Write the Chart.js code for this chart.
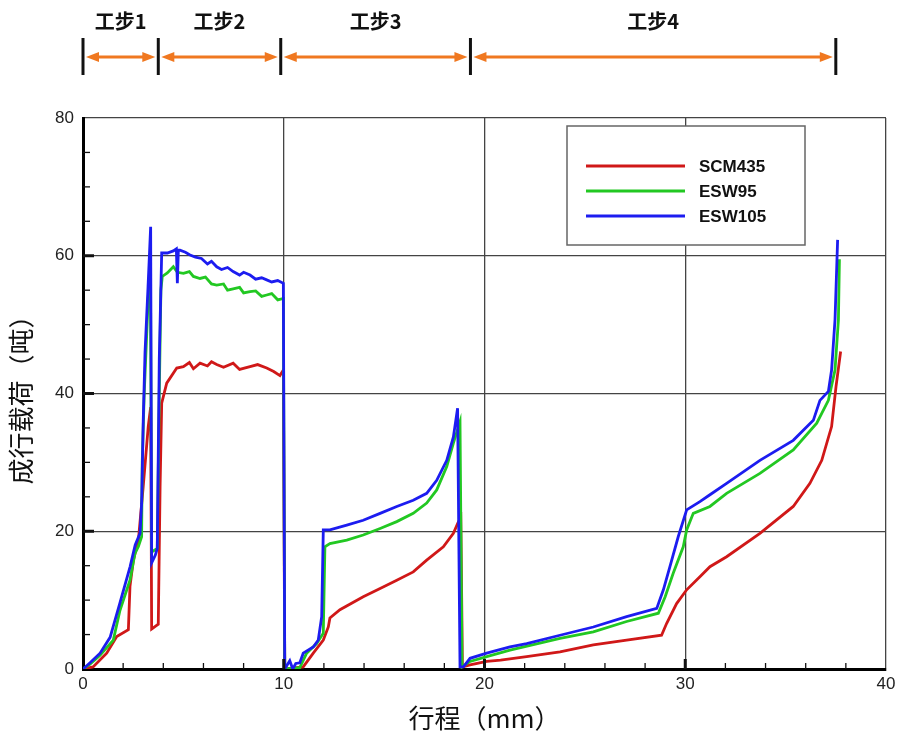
<!DOCTYPE html>
<html><head><meta charset="utf-8">
<script src="https://cdn.jsdelivr.net/npm/chart.js@4"></script>
<style>html,body{margin:0;padding:0;background:#fff}</style>
</head><body>
<canvas id="c" width="912" height="742"></canvas>
<script>
const seriesNames = ['SCM435', 'ESW95', 'ESW105'];
const seriesColors = ['#d01818', '#22c822', '#1c1cf0'];

const scmX = [0, 0.5, 1.18, 1.68, 2.26, 2.34, 2.51, 2.76, 3.0, 3.25, 3.37, 3.42, 3.6, 3.75, 3.84, 3.92, 4.17, 4.67, 5.0, 5.3, 5.5, 5.83, 6.2, 6.4, 6.66, 7.0, 7.48, 7.8, 8.32, 8.7, 9.15, 9.5, 9.81, 9.98, 10.05,
  10.97, 11.47, 11.97, 12.22, 12.3, 12.8, 13.96, 14.8, 15.63, 16.45, 17.12, 17.95, 18.45, 18.66, 18.82, 18.9,
  19.28, 20.11, 20.8, 22.1, 23.76, 25.42, 27.08, 28.82, 29.07, 29.57, 30.07, 30.73, 31.23, 32.06, 33.72, 35.38, 36.21, 36.8, 37.29, 37.51, 37.74];
const scmY = [0, 0.3, 2.3, 4.7, 5.7, 12, 15.8, 18.7, 26.5, 35.2, 38, 5.8, 6.2, 6.5, 26.5, 38.6, 41.5, 43.7, 43.9, 44.5, 43.6, 44.4, 44.0, 44.6, 44.2, 43.8, 44.4, 43.5, 43.9, 44.2, 43.7, 43.2, 42.6, 43.4, 0,
  0.3, 2.3, 4.2, 6.1, 7.4, 8.6, 10.5, 11.7, 12.9, 14.1, 15.8, 17.75, 19.7, 21.1, 22.0, 0.3,
  0.6, 1.1, 1.3, 1.8, 2.5, 3.5, 4.2, 4.9, 6.6, 9.5, 11.5, 13.4, 14.85, 16.3, 19.7, 23.6, 26.95, 30.3, 35.2, 41, 46.1];

const esw95X = [0, 0.35, 0.85, 1.51, 1.84, 2.34, 2.59, 2.76, 2.92, 2.95, 3.05, 3.25, 3.36, 3.42, 3.7, 3.8, 3.88, 3.95, 4.2, 4.5, 4.7, 5.0, 5.3, 5.5, 5.83, 6.1, 6.4, 6.66, 7.0, 7.2, 7.48, 7.8, 8.0, 8.32, 8.6, 8.9, 9.15, 9.4, 9.7, 9.98, 10.05,
  10.8, 11.14, 11.64, 11.97, 12.05, 12.3, 13.14, 13.96, 14.8, 15.63, 16.45, 17.12, 17.62, 18.12, 18.45, 18.78, 18.88,
  19.28, 20.11, 21.27, 23.76, 25.42, 27.08, 28.66, 29.0, 29.4, 29.9, 30.07, 30.4, 31.23, 32.06, 33.72, 35.38, 36.55, 37.13, 37.46, 37.63, 37.68];
const esw95Y = [0, 0.7, 2.0, 4.2, 8.5, 12.9, 16.8, 17.8, 19.2, 30, 40, 54, 58, 17, 17.5, 40, 55, 57, 57.5, 58.4, 57.6, 57.45, 57.7, 57.0, 56.7, 56.9, 55.9, 55.75, 55.9, 55.0, 55.2, 55.4, 54.6, 54.8, 54.9, 54.1, 54.3, 54.5, 53.6, 53.8, 0,
  0.2, 2.3, 3.7, 5.2, 17.75, 18.2, 18.7, 19.45, 20.4, 21.4, 22.6, 24.1, 26, 29.4, 32.8, 35.9, 0.3,
  1.1, 1.8, 2.75, 4.45, 5.4, 6.9, 8.1, 10.5, 13.9, 17.75, 20.2, 22.6, 23.6, 25.5, 28.4, 31.8, 35.7, 39, 43.4, 50.7, 59.5];

const esw105X = [0, 0.35, 0.85, 1.35, 1.84, 2.34, 2.6, 2.84, 2.92, 3.0, 3.09, 3.24, 3.37, 3.42, 3.6, 3.7, 3.8, 3.92, 4.2, 4.5, 4.65, 4.7, 4.75, 4.83, 5.1, 5.33, 5.6, 5.9, 6.2, 6.4, 6.66, 6.9, 7.2, 7.48, 7.8, 8.0, 8.32, 8.6, 8.9, 9.15, 9.4, 9.7, 9.98, 10.05,
  10.3, 10.45, 10.6, 10.8, 10.97, 11.47, 11.72, 11.89, 11.97, 12.3, 13.14, 13.96, 14.8, 15.63, 16.45, 17.12, 17.62, 18.12, 18.45, 18.66, 18.78,
  18.95, 19.28, 20.11, 21.27, 22.1, 23.76, 25.42, 27.08, 28.58, 28.91, 29.24, 29.65, 30.07, 30.73, 31.23, 32.06, 33.72, 35.38, 36.38, 36.71, 37.13, 37.29, 37.46, 37.59];
const esw105Y = [0, 0.9, 2.3, 4.6, 9.6, 14.8, 18, 19.7, 24, 36, 46, 55.5, 64.2, 15.4, 16.5, 17.5, 45, 60.4, 60.4, 60.7, 61.0, 56, 60.8, 60.8, 60.5, 60.1, 59.8, 59.6, 58.8, 59.2, 58.4, 58.0, 58.3, 57.7, 57.2, 57.6, 57.2, 56.6, 56.8, 56.5, 56.2, 56.4, 56.0, 0,
  1.2, 0, 0.8, 0.9, 2.3, 3.2, 4.2, 7.6, 20.2, 20.2, 20.9, 21.6, 22.6, 23.6, 24.5, 25.5, 27.4, 30.3, 33.7, 37.85, 0.3,
  0.3, 1.55, 2.3, 3.2, 3.7, 4.9, 6.1, 7.6, 8.8, 11.5, 14.9, 19.2, 23.1, 24.3, 25.3, 26.95, 30.3, 33.2, 36.1, 39, 40.3, 43.4, 50.7, 62.3];

const xTickLabels = [0, 10, 20, 30, 40];
const yTickLabels = [0, 20, 40, 60, 80];
const stepLabels = ['工步1', '工步2', '工步3', '工步4'];
const stepBounds = [0, 3.75, 9.85, 19.3, 37.5];

const toPts = (xs, ys) => xs.map((x, i) => ({ x: x, y: ys[i] }));
const allX = [scmX, esw95X, esw105X];
const allY = [scmY, esw95Y, esw105Y];

const datasets = seriesNames.map((name, i) => ({
  label: name,
  data: toPts(allX[i], allY[i]),
  borderColor: seriesColors[i],
  borderWidth: 2.8,
  pointRadius: 0,
  tension: 0,
  fill: false,
  order: 3 - i
}));

const minorTicks = {
  id: 'minorTicks',
  afterDatasetsDraw(chart) {
    const ctx = chart.ctx, xs = chart.scales.x, ys = chart.scales.y;
    const b = ys.getPixelForValue(0), l = xs.getPixelForValue(0);
    ctx.save();
    ctx.strokeStyle = '#111';
    for (let v = 2; v < 40; v += 2) {
      const major = v % 10 === 0;
      const px = xs.getPixelForValue(v);
      ctx.lineWidth = major ? 3 : 1.3;
      ctx.beginPath(); ctx.moveTo(px, b); ctx.lineTo(px, b - (major ? 10 : 6)); ctx.stroke();
    }
    for (let v = 5; v < 80; v += 5) {
      const major = v % 20 === 0;
      const py = ys.getPixelForValue(v);
      ctx.lineWidth = major ? 3 : 1.3;
      ctx.beginPath(); ctx.moveTo(l, py); ctx.lineTo(l + (major ? 11 : 7), py); ctx.stroke();
    }
    ctx.restore();
  }
};

const stepsPlugin = {
  id: 'steps',
  afterDraw(chart) {
    const ctx = chart.ctx, xs = chart.scales.x;
    const yArrow = 57, yTop = 38, yBot = 75, yText = 21;
    ctx.save();
    const px = stepBounds.map(v => xs.getPixelForValue(v));
    ctx.strokeStyle = '#f07820'; ctx.fillStyle = '#f07820'; ctx.lineWidth = 3;
    for (let i = 0; i < px.length - 1; i++) {
      const a = px[i] + 3, c = px[i + 1] - 3;
      ctx.beginPath(); ctx.moveTo(a + 8, yArrow); ctx.lineTo(c - 8, yArrow); ctx.stroke();
      ctx.beginPath(); ctx.moveTo(a, yArrow); ctx.lineTo(a + 13, yArrow - 5); ctx.lineTo(a + 13, yArrow + 5); ctx.closePath(); ctx.fill();
      ctx.beginPath(); ctx.moveTo(c, yArrow); ctx.lineTo(c - 13, yArrow - 5); ctx.lineTo(c - 13, yArrow + 5); ctx.closePath(); ctx.fill();
    }
    ctx.strokeStyle = '#111'; ctx.lineWidth = 3;
    px.forEach(p => { ctx.beginPath(); ctx.moveTo(p, yTop); ctx.lineTo(p, yBot); ctx.stroke(); });
    ctx.fillStyle = '#111';
    ctx.font = 'bold 20px "Noto Sans CJK SC", sans-serif';
    ctx.textAlign = 'center'; ctx.textBaseline = 'middle';
    stepLabels.forEach((t, i) => ctx.fillText(t, (px[i] + px[i + 1]) / 2, yText));
    ctx.restore();
  }
};

const legendBox = {
  id: 'legendBox',
  afterDraw(chart) {
    const ctx = chart.ctx;
    ctx.save();
    ctx.fillStyle = '#fff';
    ctx.fillRect(567, 126, 238, 119);
    ctx.strokeStyle = '#666'; ctx.lineWidth = 1.5;
    ctx.strokeRect(567, 126, 238, 119);
    ctx.font = 'bold 17px "Liberation Sans", Arial, sans-serif';
    ctx.textAlign = 'left'; ctx.textBaseline = 'middle';
    chart.data.datasets.forEach((d, i) => {
      const y = 166 + i * 25;
      ctx.strokeStyle = d.borderColor; ctx.lineWidth = 3;
      ctx.beginPath(); ctx.moveTo(586, y); ctx.lineTo(685, y); ctx.stroke();
      ctx.fillStyle = '#111';
      ctx.fillText(d.label, 699, y + 1);
    });
    ctx.restore();
  }
};

new Chart(document.getElementById('c'), {
  type: 'line',
  data: { datasets: datasets },
  options: {
    responsive: false,
    animation: false,
    devicePixelRatio: 1,
    layout: { padding: { left: 0, right: 26, top: 118, bottom: 0 } },
    plugins: { legend: { display: false }, tooltip: { enabled: false } },
    scales: {
      x: {
        type: 'linear', min: 0, max: 40,
        afterFit(s) { s.height = 73; },
        afterBuildTicks(s) { s.ticks = xTickLabels.map(v => ({ value: v })); },
        grid: { color: '#444', lineWidth: 1.3, drawTicks: false },
        border: { display: true, color: '#000', width: 3 },
        ticks: { padding: 5, color: '#222', font: { family: '"Liberation Sans", Arial, sans-serif', size: 17 } },
        title: { display: true, text: '行程（mm）', color: '#111', padding: { top: 0, bottom: 8 },
          font: { family: '"Noto Sans CJK SC", sans-serif', size: 26 } }
      },
      y: {
        type: 'linear', min: 0, max: 80,
        afterFit(s) { s.width = 83; },
        afterBuildTicks(s) { s.ticks = yTickLabels.map(v => ({ value: v })); },
        grid: { color: '#444', lineWidth: 1.3, drawTicks: false },
        border: { display: true, color: '#000', width: 3 },
        ticks: { padding: 9, color: '#222', font: { family: '"Liberation Sans", Arial, sans-serif', size: 17 } },
        title: { display: true, text: '成行载荷（吨）', color: '#111', padding: { top: 6, bottom: 0 },
          font: { family: '"Noto Sans CJK SC", sans-serif', size: 26 } }
      }
    }
  },
  plugins: [minorTicks, stepsPlugin, legendBox]
});
</script>
</body></html>
